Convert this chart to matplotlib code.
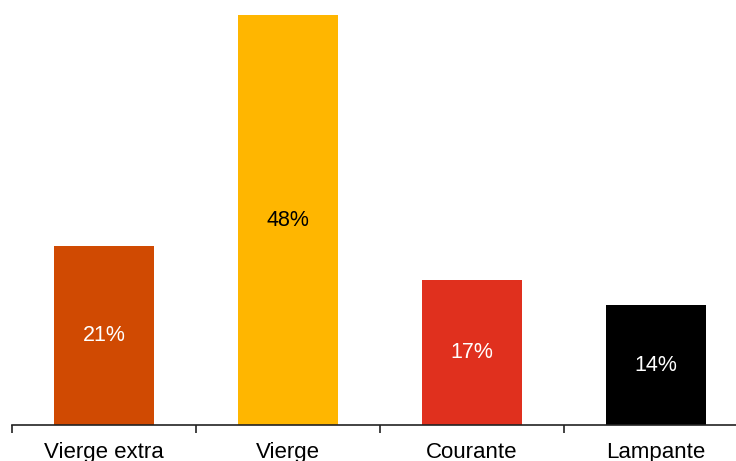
import matplotlib.pyplot as plt

categories = ['Vierge extra', 'Vierge', 'Courante', 'Lampante']
shares = [21, 48, 17, 14]
bar_colors = ['#D04A02', '#FFB600', '#E0301E', '#000000']
text_colors = ['white', 'black', 'white', 'white']

plt.rcParams['font.family'] = ['Liberation Sans', 'DejaVu Sans']

W, H = 736, 461
fig = plt.figure(figsize=(W / 100, H / 100), dpi=100)
# axes spans 12px..748px horizontally, baseline at y=425, top at y=15
ax = fig.add_axes([12 / W, 36 / H, 736 / W, 410 / H])

x = range(len(categories))
bars = ax.bar(x, shares, width=100 / 184, color=bar_colors, linewidth=0)

for b, v, c in zip(bars, shares, text_colors):
    ax.text(b.get_x() + b.get_width() / 2, v / 2, f'{v}%', ha='center', va='center',
            fontsize=15.5, color=c)

ax.set_xlim(-0.5, 3.5)
ax.set_ylim(0, 48)
ax.set_yticks([])
ax.set_xticks([-0.5, 0.5, 1.5, 2.5, 3.5])
ax.set_xticklabels([])
ax.set_xticks(list(x), minor=True)
ax.set_xticklabels(categories, minor=True, fontsize=16)
ax.tick_params(axis='x', which='minor', length=0, pad=12)
ax.tick_params(axis='x', which='major', length=6, width=1.2, color='#222222')

for side in ['top', 'right', 'left']:
    ax.spines[side].set_visible(False)
ax.spines['bottom'].set_linewidth(1.2)
ax.spines['bottom'].set_color('#222222')

fig.savefig('out.png', dpi=100)
